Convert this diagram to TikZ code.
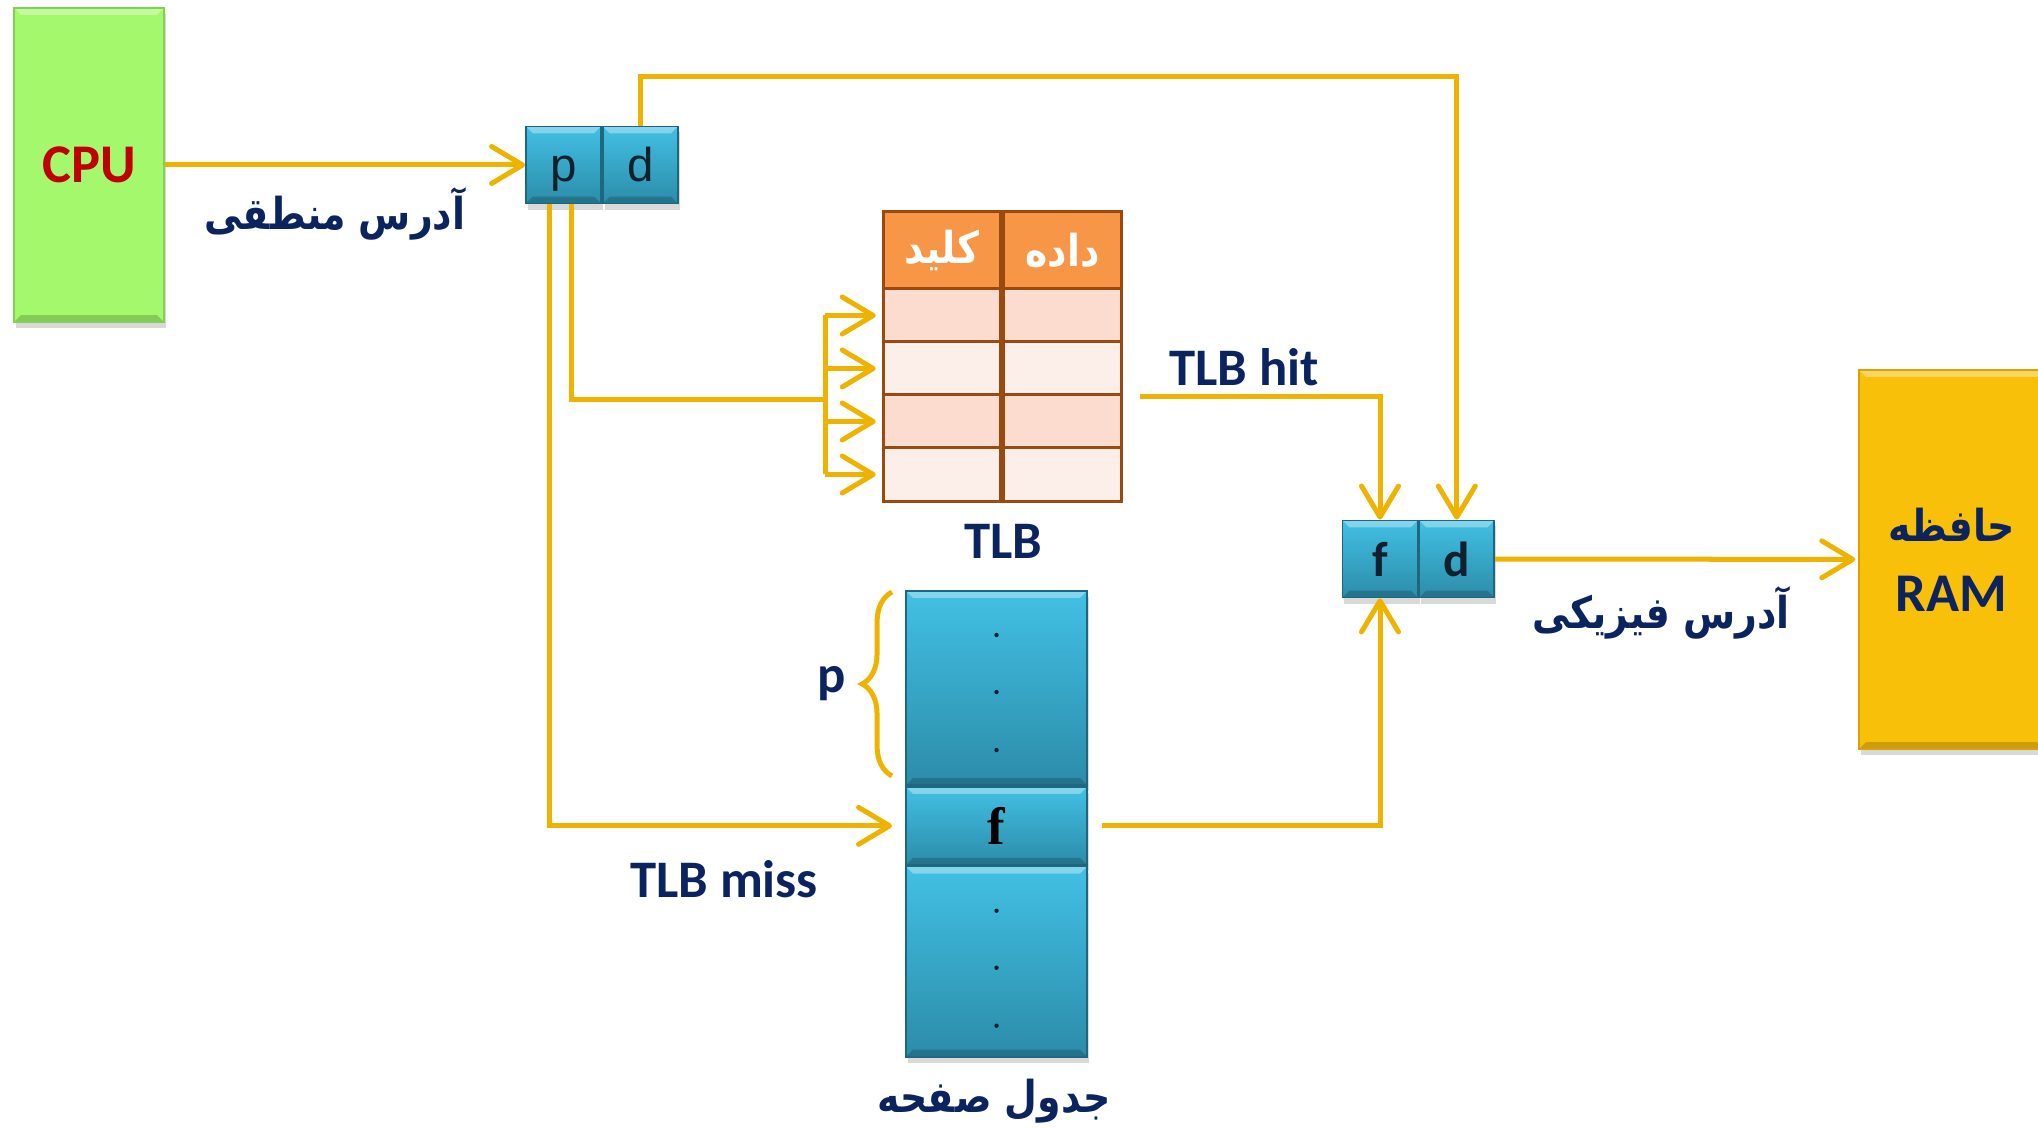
\documentclass[tikz,border=0pt]{standalone}
\usepackage{fontspec}
\setmainfont{Carlito}
\newfontfamily\farsifont[Script=Arabic, FakeStretch=0.86]{DejaVu Sans}
\newfontfamily\arialfont{Liberation Sans}
\newfontfamily\timesfont{Liberation Serif}
\TeXXeTstate=1
\usetikzlibrary{arrows.meta, positioning, calc, shadows, decorations.pathreplacing}
\definecolor{kgold}{HTML}{EEB300}
\definecolor{knavy}{HTML}{0B2460}
\definecolor{kred}{HTML}{C00000}
\definecolor{kgreen}{HTML}{A3F86C}
\definecolor{kgreendark}{HTML}{86CF56}
\definecolor{kram}{HTML}{F9C00A}
\definecolor{kramdark}{HTML}{D9A106}
\definecolor{kcyantop}{HTML}{42C0E4}
\definecolor{kcyanbot}{HTML}{2C8CA9}
\definecolor{kcyanline}{HTML}{1D6780}
\definecolor{kink}{HTML}{10202C}
\definecolor{khead}{HTML}{F79646}
\definecolor{kbrown}{HTML}{9A4A10}
\definecolor{krowa}{HTML}{FBDCCF}
\definecolor{krowb}{HTML}{FCEEE9}
\newcommand{\fa}[1]{{\farsifont\bfseries\fontsize{12.5}{16}\selectfont\beginR #1\endR}}
\tikzset{
  flow/.style={draw=kgold, line width=0.05cm,
    -{Straight Barb[length=0.31cm, width=0.37cm, round]}},
  wire/.style={draw=kgold, line width=0.05cm},
  softshadow/.style={drop shadow={opacity=0.3, shadow xshift=0.02cm, shadow yshift=-0.06cm}},
  bevelpic/.style={path picture={
    \fill[white, opacity=0.35] (path picture bounding box.north west)
      -- (path picture bounding box.north east) -- ++(-0.07cm,-0.07cm)
      -- ($(path picture bounding box.north west)+(0.07cm,-0.07cm)$) -- cycle;
    \fill[black, opacity=0.18] (path picture bounding box.south west)
      -- (path picture bounding box.south east) -- ++(-0.07cm,0.07cm)
      -- ($(path picture bounding box.south west)+(0.07cm,0.07cm)$) -- cycle;}},
  bevel/.style={draw=kcyanline, line width=0.5pt, top color=kcyantop, bottom color=kcyanbot,
    inner sep=0pt, softshadow, bevelpic},
  addrcell/.style={bevel, minimum width=0.75cm, minimum height=0.77cm, text=kink},
  tlbcell/.style={draw=kbrown, line width=0.85pt, inner sep=0pt, minimum width=1.175cm,
    minimum height=0.53cm},
  capt/.style={font=\fontsize{15}{18}\selectfont\bfseries, text=knavy},
}

\begin{document}
\begin{tikzpicture}[x=0.01cm, y=-0.01cm]
  \useasboundingbox (0,0) rectangle (2038,1128);

  %% CPU and memory
  \node[draw=kgreendark, fill=kgreen, minimum width=1.5cm, minimum height=3.14cm, softshadow,
    bevelpic, font=\fontsize{15.5}{18}\selectfont\bfseries, text=kred] (cpu) at (89,165) {CPU};
  \node[draw=kramdark, fill=kram, minimum width=1.85cm, minimum height=3.79cm, softshadow,
    bevelpic, align=center, font=\fontsize{15.5}{20}\selectfont\bfseries, text=knavy]
    (ram) at (1951.5,559.5) {\fa{حافظه}\\RAM};

  %% logical address
  \node[addrcell, font=\arialfont\fontsize{13.5}{16}\selectfont, text height=0.33cm,
    text depth=0pt] (pbox) at (563.5,165) {p};
  \node[addrcell, font=\arialfont\fontsize{13.5}{16}\selectfont, text height=0.33cm,
    text depth=0pt, right=0pt of pbox] (dbox) {d};
  \node[capt] (logaddr) at (335,214) {\fa{آدرس منطقی}};

  %% TLB
  \node[tlbcell, fill=khead, minimum height=0.77cm, text=white] (key) at (942,250.5) {\fa{کلید}};
  \node[tlbcell, fill=khead, minimum height=0.77cm, text=white, right=0pt of key] (data)
    {\fa{داده}};
  \foreach \i/\c in {1/krowa,2/krowb,3/krowa,4/krowb}{
    \node[tlbcell, fill=\c] (k\i) at (942,{289+53*(\i-0.5)}) {};
    \node[tlbcell, fill=\c, right=0pt of k\i] (v\i) {};
  }
  \node[capt] (tlbname) at (1003,541) {TLB};

  %% page table
  \node[bevel, minimum width=1.81cm, minimum height=1.94cm] (ptup) at (996.5,688) {};
  \node[bevel, minimum width=1.81cm, minimum height=0.78cm, below=0pt of ptup,
    font=\timesfont\bfseries\fontsize{15}{18}\selectfont, text=black] (ptf) {f};
  \node[bevel, minimum width=1.81cm, minimum height=1.9cm, below=0pt of ptf] (ptdown) {};
  \foreach \s in {ptup,ptdown}
    \foreach \o in {45,102,160}
      \fill[kink] ($(\s.north)+(0,\o)$) circle (0.022cm);
  \draw[wire, decorate, decoration={brace, amplitude=0.3cm}]
    ($(ptup.south west)+(-13,-10)$) -- ($(ptup.north west)+(-13,2)$);
  \node[capt] (pidx) at (832,684) {p};
  \node[capt] (ptname) at (994,1101) {\fa{جدول صفحه}};

  %% physical address
  \node[addrcell, font=\fontsize{14}{17}\selectfont\bfseries] (fbox) at (1380,559) {f};
  \node[addrcell, font=\fontsize{14}{17}\selectfont\bfseries, right=0pt of fbox] (dfbox) {d};
  \node[capt] (physaddr) at (1661,613) {\fa{آدرس فیزیکی}};

  %% connectors
  \draw[flow] (cpu) -- (pbox);
  \draw[flow] (dbox.north) -- ++(0,-49) -| (dfbox.north);
  \coordinate (bus) at (825,400);
  \draw[wire] ($(pbox.south)+(8,0)$) |- (bus);
  \draw[wire] (bus |- k1.west) -- (bus |- k4.west);
  \foreach \i in {1,...,4}
    \draw[flow, shorten >=0.06cm] (bus |- k\i.west) -- (k\i.west);
  \coordinate (hit) at ($(v2.south east)+(17,0)$);
  \draw[flow] (hit) -| (fbox.north);
  \node[capt] (hitlbl) at (1244,367) {TLB hit};
  \draw[flow, shorten >=0.13cm] ($(pbox.south)+(-14,0)$) |- (ptf.west);
  \node[capt] (misslbl) at (724,879) {TLB miss};
  \draw[flow, shorten <=0.14cm] (ptf.east) -| (fbox.south);
  \draw[flow, shorten >=0.03cm] (dfbox) -- (ram);

\end{tikzpicture}
\end{document}
